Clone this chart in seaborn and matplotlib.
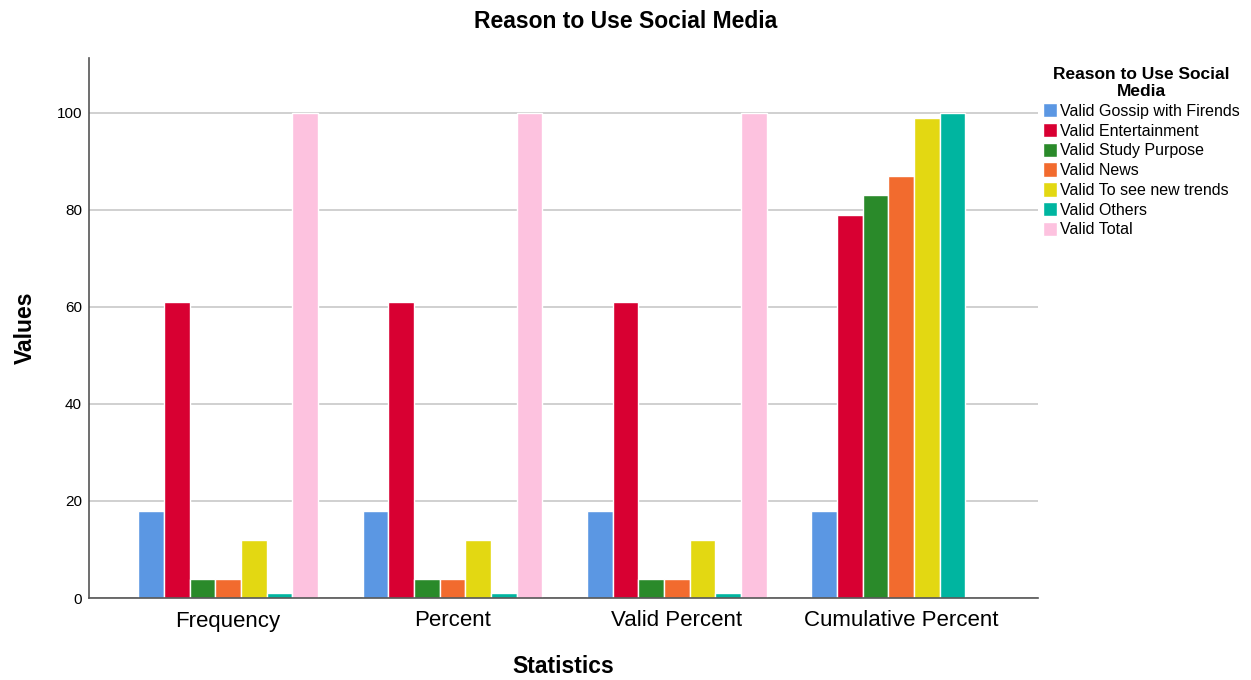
import numpy as np
import pandas as pd
import matplotlib
matplotlib.use("Agg")
import matplotlib.pyplot as plt
import seaborn as sns

statistics = ["Frequency", "Percent", "Valid Percent", "Cumulative Percent"]
reasons = ["Valid Gossip with Firends", "Valid Entertainment", "Valid Study Purpose",
           "Valid News", "Valid To see new trends", "Valid Others", "Valid Total"]

frequency = [18, 61, 4, 4, 12, 1, 100]
percent = [18, 61, 4, 4, 12, 1, 100]
valid_percent = [18, 61, 4, 4, 12, 1, 100]
cumulative_percent = [18, 79, 83, 87, 99, 100, np.nan]

colors = ["#5B97E3", "#D80032", "#2A8A2A", "#F26B2E", "#E3D812", "#00B5A0", "#FDC2DF"]

rows = []
for stat, vals in zip(statistics, [frequency, percent, valid_percent, cumulative_percent]):
    for reason, v in zip(reasons, vals):
        rows.append({"Statistics": stat, "Reason": reason, "Values": v})
df = pd.DataFrame(rows)

sns.set_style("white")
plt.rcParams["font.family"] = ["Liberation Sans", "DejaVu Sans"]
plt.rcParams["text.color"] = "black"

fig = plt.figure(figsize=(12.51, 6.8), dpi=100)
ax = fig.add_axes([89 / 1251, 82 / 680, (1038 - 89) / 1251, (598 - 58) / 680])

sns.barplot(data=df, x="Statistics", y="Values", hue="Reason",
            order=statistics, hue_order=reasons, palette=colors, saturation=1,
            width=0.8, edgecolor="white", linewidth=1, ax=ax, errorbar=None)

ax.set_ylim(0, 111.3)
ax.set_xlim(-0.62, 3.61)
ax.set_yticks([0, 20, 40, 60, 80, 100])
ax.yaxis.grid(True, color="#C8C8C8", linewidth=1.2)
ax.set_axisbelow(True)
for s in ["top", "right"]:
    ax.spines[s].set_visible(False)
for s in ["left", "bottom"]:
    ax.spines[s].set_color("#555555")
    ax.spines[s].set_linewidth(1.2)
ax.tick_params(axis="y", labelsize=11, length=0, pad=5, colors="black")
ax.tick_params(axis="x", labelsize=16, length=0, pad=9, colors="black")

ax.set_xlabel("Statistics", fontsize=16.5, fontweight="bold", labelpad=17, color="black")
ax.set_ylabel("Values", fontsize=16.5, fontweight="bold", labelpad=14, color="black")
fig.suptitle("Reason to Use Social Media", fontsize=16.5, fontweight="bold", y=0.986,
             color="black")

leg = ax.legend(title="Reason to Use Social\nMedia", loc="upper left",
                bbox_to_anchor=(1.0, 0.993), frameon=False, fontsize=11.5,
                title_fontproperties={"weight": "bold", "size": 12.5},
                handlelength=0.9, handleheight=1.0, handletextpad=0.2,
                labelspacing=0.26, borderaxespad=0.0, borderpad=0.3)
leg._legend_box.align = "center"
leg.get_title().set_multialignment("center")

fig.savefig("out.png", dpi=100)
